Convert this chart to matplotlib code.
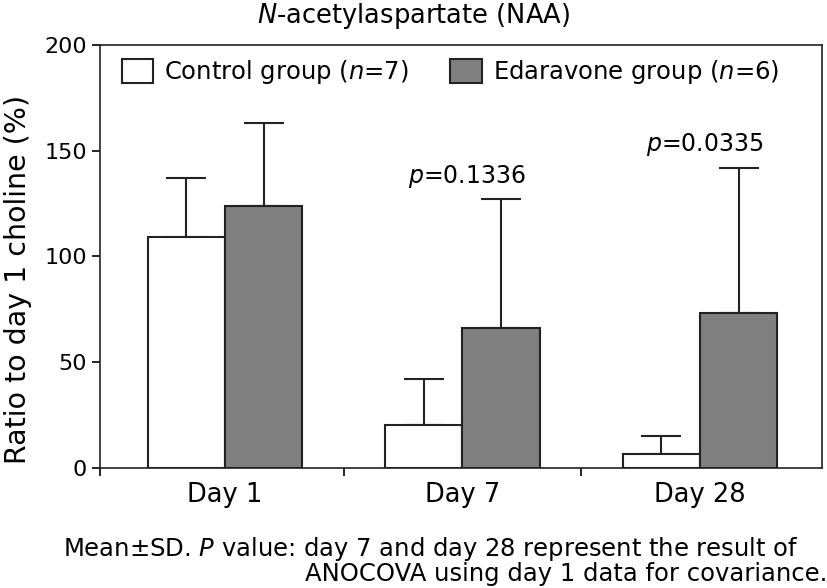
import matplotlib
matplotlib.use('Agg')
import matplotlib.pyplot as plt
import numpy as np

# values
days = ['Day 1', 'Day 7', 'Day 28']
control_mean = [109, 20.5, 6.5]
control_sd = [28, 21.5, 8.5]
edaravone_mean = [124, 66, 73.5]
edaravone_sd = [39, 61, 68.5]
p_labels = ['', '0.1336', '0.0335']
y_ticks = [0, 50, 100, 150, 200]

plt.rcParams['font.family'] = ['DejaVu Sans']
plt.rcParams['mathtext.fontset'] = 'dejavusans'

fig = plt.figure(figsize=(8.28, 5.88), dpi=100)
ax = fig.add_axes([0.1208, 0.2041, 0.872, 0.7194])

x = np.arange(len(days))
w = 0.325
edge = '#222222'

ax.bar(x - w / 2, control_mean, w, color='white', edgecolor=edge, linewidth=1.5,
       label=r'Control group ($\it{n}$=7)', zorder=3)
ax.bar(x + w / 2, edaravone_mean, w, color='#808080', edgecolor=edge, linewidth=1.5,
       label=r'Edaravone group ($\it{n}$=6)', zorder=3)

zeros = np.zeros(len(days))
ax.errorbar(x - w / 2, control_mean, yerr=[zeros, control_sd], fmt='none',
            ecolor=edge, elinewidth=1.5, capsize=14.5, capthick=1.5, zorder=2)
ax.errorbar(x + w / 2, edaravone_mean, yerr=[zeros, edaravone_sd], fmt='none',
            ecolor=edge, elinewidth=1.5, capsize=14.5, capthick=1.5, zorder=2)

# p-values above the day 7 / day 28 groups
for i, p in enumerate(p_labels):
    if p:
        top = edaravone_mean[i] + edaravone_sd[i]
        ax.text(x[i] + 0.02, top + 11, r'$\it{p}$=' + p, ha='center', va='center', fontsize=17)

ax.set_xlim(-0.526, 2.514)
ax.set_ylim(0, 200)
ax.set_yticks(y_ticks)
ax.tick_params(axis='y', labelsize=16, length=6, width=1.2, direction='out')

# category labels sit between the tick marks
ax.set_xticks([-0.526, 0.5, 1.5])
ax.set_xticklabels([])
ax.tick_params(axis='x', length=6, width=1.2, direction='out')
for i, d in enumerate(days):
    ax.text(x[i], -13, d, ha='center', va='center', fontsize=18.5)

for s in ax.spines.values():
    s.set_linewidth(1.2)
    s.set_color(edge)

fig.text(18 / 828, 1 - 279 / 588, 'Ratio to day 1 choline (%)', rotation=90,
         ha='center', va='center', fontsize=20.5)
fig.text(414 / 828, 1 - 16 / 588, r'$\it{N}$-acetylaspartate (NAA)', ha='center', va='center',
         fontsize=18.5)

ax.legend(loc='upper left', bbox_to_anchor=(0.0, 1.02), ncol=2, frameon=False,
          fontsize=17.5, handlelength=1.3, handleheight=1.1, handletextpad=0.45,
          columnspacing=1.7)

fig.text(63 / 828, 1 - 549 / 588, r'Mean±SD. $\it{P}$ value: day 7 and day 28 represent the result of',
         ha='left', va='center', fontsize=17.5)
fig.text(305 / 828, 1 - 574 / 588, 'ANOCOVA using day 1 data for covariance.',
         ha='left', va='center', fontsize=17.5)

fig.savefig('out.png', dpi=100)
